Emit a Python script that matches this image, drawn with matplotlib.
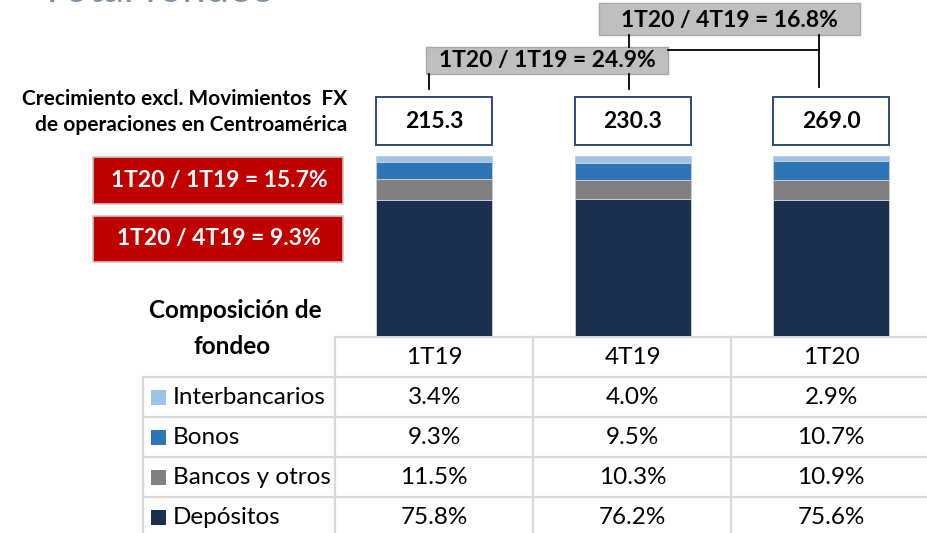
import matplotlib.pyplot as plt
import matplotlib.transforms as mtransforms
from matplotlib.patches import Rectangle

plt.rcParams['font.family'] = ['Lato', 'DejaVu Sans']

# Periodos y totales
categorias = ['1T19', '4T19', '1T20']
totales = ['215.3', '230.3', '269.0']

# Composición de fondeo (%)
interbancarios = [3.4, 4.0, 2.9]
bonos = [9.3, 9.5, 10.7]
bancos_otros = [11.5, 10.3, 10.9]
depositos = [75.8, 76.2, 75.6]

series = ['Interbancarios', 'Bonos', 'Bancos y otros', 'Depósitos']
valores = [interbancarios, bonos, bancos_otros, depositos]
colores = ['#9dc3e6', '#2e75b6', '#808080', '#1b3050']

crec_total = ['1T20 / 1T19 = 24.9%', '1T20 / 4T19 = 16.8%']
crec_fx = ['1T20 / 1T19 = 15.7%', '1T20 / 4T19 = 9.3%']

W, H = 927, 533
fig = plt.figure(figsize=(W / 100, H / 100), dpi=100)

# capa de anotaciones en pixeles
ov = fig.add_axes([0, 0, 1, 1])
ov.set_xlim(0, W)
ov.set_ylim(H, 0)
ov.axis('off')

# barras apiladas
ax = fig.add_axes([335 / W, (H - 336) / H, 595.5 / W, 180 / H])
x = range(len(categorias))
ancho = 0.585
base = [0.0] * len(categorias)
for nombre, vals, col in zip(series[::-1], valores[::-1], colores[::-1]):
    ax.bar(x, vals, ancho, bottom=base, color=col, edgecolor='#c8ccd4', linewidth=0.7)
    base = [b + v for b, v in zip(base, vals)]
ax.set_xlim(-0.5, 2.5)
ax.set_ylim(0, 100)
ax.axis('off')

# titulo cortado arriba
ov.text(40, 1.5, 'Total fondeo', fontsize=30, color='#7f8faa', va='baseline', ha='left')

# cajas de totales sobre cada barra
tr = mtransforms.blended_transform_factory(ax.transData, ov.transData)
for i, t in enumerate(totales):
    ov.add_patch(Rectangle((i - ancho / 2, 97), ancho, 48, transform=tr,
                           facecolor='white', edgecolor='#2f4a7a', linewidth=1.4))
    ov.text(i, 121, t, transform=tr, ha='center', va='center',
            fontsize=16.5, fontweight='bold')

# conectores de crecimiento
lc = dict(color='black', linewidth=1.3)
ov.plot([429, 429], [74, 89], **lc)
ov.plot([629, 629], [35, 47], **lc)
ov.plot([629, 629], [74, 89], **lc)
ov.plot([668, 819], [50, 50], **lc)
ov.plot([819, 819], [35, 87], **lc)
ov.add_patch(Rectangle((426, 47), 242, 27, facecolor='#bfbfbf', edgecolor='#a6a6a6', linewidth=1))
ov.text(547, 61, crec_total[0], ha='center', va='center', fontsize=16.5, fontweight='bold')
ov.add_patch(Rectangle((599, 3), 261, 32, facecolor='#bfbfbf', edgecolor='#a6a6a6', linewidth=1))
ov.text(729, 20, crec_total[1], ha='center', va='center', fontsize=16.5, fontweight='bold')

# texto izquierdo
ov.text(347, 99, 'Crecimiento excl. Movimientos  FX', ha='right', va='center',
        fontsize=15, fontweight='bold')
ov.text(347, 125, 'de operaciones en Centroamérica', ha='right', va='center',
        fontsize=15, fontweight='bold')
for (y0, y1), txt in zip([(157, 204), (216, 262)], crec_fx):
    ov.add_patch(Rectangle((93, y0), 250, y1 - y0, facecolor='#c00000',
                           edgecolor='#c8c8c8', linewidth=1.2))
    ov.text(219, (y0 + y1) / 2, txt, ha='center', va='center', color='white',
            fontsize=16.5, fontweight='bold')

ov.text(235, 311, 'Composición de', ha='center', va='center', fontsize=17.5, fontweight='bold')
ov.text(232, 347, 'fondeo', ha='center', va='center', fontsize=17.5, fontweight='bold')

# tabla
cols = [335, 533, 731, 935]
filas = [337, 377, 417, 457, 497, 537]
gl = dict(color='#d9d9d9', linewidth=1.6)
for xc in cols:
    ov.plot([xc, xc], [filas[0], filas[-1]], **gl)
ov.plot([143, 143], [filas[1], filas[-1]], **gl)
ov.plot([cols[0], cols[-1]], [filas[0], filas[0]], **gl)
for yr in filas[1:]:
    ov.plot([143, cols[-1]], [yr, yr], **gl)

for i, c in enumerate(categorias):
    ov.text(i, 358, c, transform=tr, ha='center', va='center', fontsize=17.5)

for r, (nombre, vals, col) in enumerate(zip(series, valores, colores)):
    yc = (filas[r + 1] + filas[r + 2]) / 2
    ov.add_patch(Rectangle((151, yc - 7.5), 15, 15, facecolor=col, edgecolor='none'))
    ov.text(173, yc, nombre, ha='left', va='center', fontsize=17.5)
    for i, v in enumerate(vals):
        ov.text(i, yc, f'{v:.1f}%', transform=tr, ha='center', va='center', fontsize=17.5)

fig.savefig('out.png', dpi=100)
